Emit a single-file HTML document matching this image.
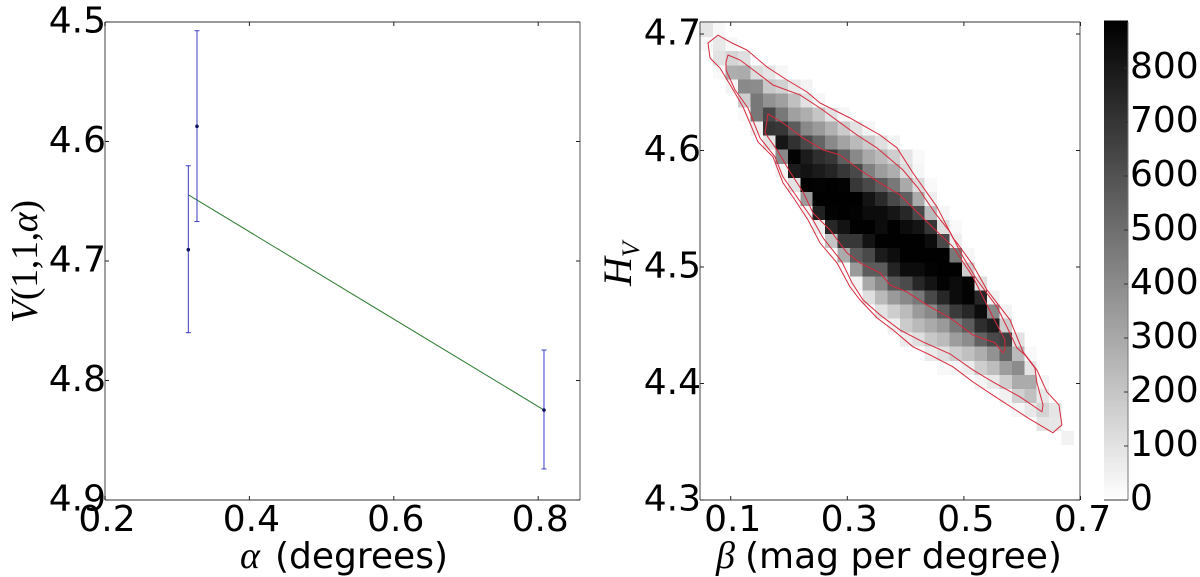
<!DOCTYPE html>
<html lang="en">
<head>
<meta charset="utf-8">
<title>Phase curve fit and posterior histogram</title>
<style>
html,body{margin:0;padding:0;background:#fff;}
#figure{display:block;width:1200px;height:577px;}
text{font-family:"DejaVu Sans","Liberation Sans",sans-serif;fill:#000;}
.math{font-family:"Liberation Serif",serif;}
</style>
</head>
<body>
<svg id="figure" xmlns="http://www.w3.org/2000/svg" width="1200" height="577" viewBox="0 0 1200 577">
  <rect x="0" y="0" width="1200" height="577" fill="#fff"/>
  <text y="568" font-size="36"><tspan class="math" x="240" font-style="italic" font-size="38">α</tspan><tspan x="275">(degrees)</tspan></text>
  <text class="math" transform="translate(37 323) rotate(-90)" font-size="38" textLength="123" lengthAdjust="spacing"><tspan font-style="italic">V</tspan>(1,1,<tspan font-style="italic">α</tspan>)</text>
  <text y="568" font-size="36"><tspan class="math" x="716" font-style="italic" font-size="38">β</tspan><tspan x="745">(mag per degree)</tspan></text>
  <text class="math" transform="translate(631 286) rotate(-90)" font-size="40" font-style="italic">H<tspan dy="8" font-size="25">V</tspan></text>
  <g id="left-plot"></g>
  <g id="right-plot"></g>
  <g id="colorbar"></g>
</svg>
<script>
// ---- left panel data ----
const phaseAngle = [0.3154, 0.3274, 0.808];
const magnitude = [4.6905, 4.5873, 4.8247];
const magnitudeLow = [4.6203, 4.5073, 4.7745];
const magnitudeHigh = [4.7600, 4.6670, 4.8740];
const fitAngle = [0.316, 0.808];
const fitMagnitude = [4.6448, 4.8247];
const leftXTicks = [0.2, 0.4, 0.6, 0.8];
const leftYTicks = [4.5, 4.6, 4.7, 4.8, 4.9];

// ---- right panel data ----
const rightXTicks = [0.1, 0.3, 0.5, 0.7];
const rightYTicks = [4.7, 4.6, 4.5, 4.4, 4.3];
const betaFirstEdge = 0.0485;
const betaBinWidth = 0.02135;
const hvTopEdge = 4.7094;
const hvBinHeight = 0.01208;
// histogram counts, top row (largest H_V) first, columns by increasing beta
const histogramCounts = [
[90,25],
[25,80,25],
[0,100,150,110],
[0,20,280,290,120,90,30],
[0,0,40,410,400,190,160,80,40],
[0,0,0,170,470,380,330,220,100,30],
[0,0,0,20,470,630,470,330,280,200,100,30],
[0,0,0,0,60,705,695,565,410,350,270,180,100,35],
[0,0,0,0,0,100,810,715,630,535,410,320,240,180,110,40],
[0,0,0,0,0,0,410,875,790,725,695,560,410,300,240,170,90,20],
[0,0,0,0,0,0,40,790,820,790,760,695,630,440,340,280,120,30],
[0,0,0,0,0,0,0,100,880,875,880,875,695,630,565,470,300,120,20],
[0,0,0,0,0,0,0,0,350,880,880,880,880,815,740,630,555,290,60],
[0,0,0,0,0,0,0,0,30,770,875,880,875,845,845,810,750,630,235,30],
[0,0,0,0,0,0,0,0,0,60,750,820,880,880,845,880,845,815,695,115,20],
[0,0,0,0,0,0,0,0,0,0,200,695,695,820,880,880,880,880,845,630,60],
[0,0,0,0,0,0,0,0,0,0,0,290,565,630,790,835,880,880,880,880,470,30],
[0,0,0,0,0,0,0,0,0,0,0,10,350,565,565,760,845,845,875,880,880,175],
[0,0,0,0,0,0,0,0,0,0,0,0,40,300,410,580,625,750,815,875,845,875,110],
[0,0,0,0,0,0,0,0,0,0,0,0,0,110,240,350,410,470,630,750,845,875,750,50],
[0,0,0,0,0,0,0,0,0,0,0,0,0,0,100,170,235,350,410,560,685,750,845,410,40],
[0,0,0,0,0,0,0,0,0,0,0,0,0,0,0,55,180,240,295,350,470,565,725,785,175],
[0,0,0,0,0,0,0,0,0,0,0,0,0,0,0,0,70,110,190,235,340,400,545,630,665,100],
[0,0,0,0,0,0,0,0,0,0,0,0,0,0,0,0,0,0,70,110,175,220,280,380,535,240,20],
[0,0,0,0,0,0,0,0,0,0,0,0,0,0,0,0,0,0,0,25,30,70,170,230,340,400,95],
[0,0,0,0,0,0,0,0,0,0,0,0,0,0,0,0,0,0,0,0,0,0,40,80,170,290,290,30],
[0,0,0,0,0,0,0,0,0,0,0,0,0,0,0,0,0,0,0,0,0,0,0,0,50,160,220,85],
[0,0,0,0,0,0,0,0,0,0,0,0,0,0,0,0,0,0,0,0,0,0,0,0,0,30,80,150,90],
[0,0,0,0,0,0,0,0,0,0,0,0,0,0,0,0,0,0,0,0,0,0,0,0,0,0,0,90,85],
[0,0,0,0,0,0,0,0,0,0,0,0,0,0,0,0,0,0,0,0,0,0,0,0,0,0,0,0,0,45]
];
const contourOuterBeta = [.0782,.1022,.1280,.1623,.1966,.2309,.2532,.3046,.3561,.3852,.4127,.4538,.4812,.4881,.5155,.5395,.5790,.6013,.6253,.6424,.6630,.6681,.6527,.6098,.5566,.5155,.4812,.4417,.4126,.3783,.3509,.3217,.3046,.2823,.2532,.2326,.2069,.1897,.1726,.1468,.1211,.1022,.0817,.0645,.0611];
const contourOuterHv = [4.6990,4.6923,4.6863,4.6717,4.6605,4.6502,4.6408,4.6279,4.6133,4.6022,4.5807,4.5516,4.5250,4.5207,4.5018,4.4804,4.4546,4.4272,4.4117,4.3928,4.3817,4.3645,4.3577,4.3705,4.3877,4.4014,4.4143,4.4246,4.4315,4.4460,4.4563,4.4718,4.4829,4.5035,4.5207,4.5404,4.5601,4.5722,4.5945,4.6073,4.6374,4.6537,4.6708,4.6794,4.6923];
const contourMiddleBeta = [.0954,.1160,.1503,.1726,.2189,.2532,.3166,.3509,.3955,.4212,.4504,.4761,.4984,.5224,.5566,.5738,.5909,.6047,.6218,.6253,.6356,.6339,.5961,.5497,.5155,.4761,.4298,.3903,.3561,.3269,.3080,.2909,.2583,.2412,.2137,.1897,.1760,.1503,.1297,.1074,.0919,.0919];
const contourMiddleHv = [4.6820,4.6777,4.6648,4.6562,4.6477,4.6365,4.6133,4.6022,4.5833,4.5679,4.5464,4.5301,4.5087,4.4889,4.4658,4.4486,4.4306,4.4246,4.4134,4.4006,4.3817,4.3757,4.3886,4.4014,4.4117,4.4254,4.4357,4.4460,4.4589,4.4718,4.4864,4.5044,4.5250,4.5404,4.5601,4.5773,4.5945,4.6108,4.6365,4.6520,4.6691,4.6760];
const contourInnerBeta = [.1640,.1897,.2240,.2583,.2874,.3217,.3561,.3903,.4366,.4812,.5155,.5497,.5703,.5703,.5669,.5532,.5155,.4761,.4366,.4023,.3732,.3561,.3217,.2994,.2703,.2412,.2240,.2017,.1794,.1589];
const contourInnerHv = [4.6314,4.6236,4.6108,4.6005,4.5962,4.5833,4.5722,4.5619,4.5387,4.5173,4.4915,4.4572,4.4375,4.4289,4.4263,4.4349,4.4417,4.4563,4.4675,4.4786,4.4846,4.4950,4.5035,4.5121,4.5318,4.5464,4.5644,4.5816,4.6005,4.6151];

// ---- colorbar data ----
const colorbarTicks = [0, 100, 200, 300, 400, 500, 600, 700, 800];
const colorMax = 885;

const NS = 'http://www.w3.org/2000/svg';
function mk(parent, tag, attrs) {
  const el = document.createElementNS(NS, tag);
  for (const k in attrs) el.setAttribute(k, attrs[k]);
  parent.appendChild(el);
  return el;
}
function grayFor(v) {
  const g = Math.round(255 * (1 - Math.min(v, colorMax) / colorMax));
  return 'rgb(' + g + ',' + g + ',' + g + ')';
}

// axis functions
const leftX = v => 105 + (v - 0.2) * 722;
const leftY = v => 22 + (v - 4.5) * 1195;
const rightX = v => 730.7 + (v - 0.1) * 583;
const rightY = v => 34 + (4.7 - v) * 1165;
const barY = v => 500 - v * 0.54;

const leftPlot = document.getElementById('left-plot');
const rightPlot = document.getElementById('right-plot');
const colorbar = document.getElementById('colorbar');

function frame(parent, x0, y0, x1, y1) {
  const left = mk(parent, 'line', {x1:x0, y1:y0, x2:x0, y2:y1, stroke:'#888', 'stroke-width':1.6});
  
  
  const right = mk(parent, 'line', {x1:x1, y1:y0, x2:x1, y2:y1, stroke:'#666', 'stroke-width':1.1});
  
  
  const top = mk(parent, 'line', {x1:x0, y1:y0, x2:x1, y2:y0, stroke:'#333', 'stroke-width':1});
  
  
  const bottom = mk(parent, 'line', {x1:x0, y1:y1, x2:x1, y2:y1, stroke:'#333', 'stroke-width':1});
  
  
}
function xTicks(parent, values, scale, y0, y1, prefix) {
  values.forEach(v => {
    const px = scale(v);
    const t1 = mk(parent, 'line', {x1:px, y1:y1, x2:px, y2:y1 - 4, stroke:'#222', 'stroke-width':1});
    
    
    const t2 = mk(parent, 'line', {x1:px, y1:y0, x2:px, y2:y0 + 4, stroke:'#222', 'stroke-width':1});
    
    
    const label = mk(parent, 'text', {x:px + 2, y:531, 'font-size':36, 'text-anchor':'middle'});
    
    
    label.textContent = v.toFixed(1);
  });
}
function yTicks(parent, values, scale, x0, x1, prefix) {
  values.forEach(v => {
    const py = scale(v);
    const t1 = mk(parent, 'line', {x1:x0, y1:py, x2:x0 + 4, y2:py, stroke:'#222', 'stroke-width':1});
    
    
    const t2 = mk(parent, 'line', {x1:x1, y1:py, x2:x1 - 4, y2:py, stroke:'#222', 'stroke-width':1});
    
    
    const label = mk(parent, 'text', {x:x0 + 1, y:py + 10.5, 'font-size':36, 'text-anchor':'end'});
    
    
    label.textContent = v.toFixed(1);
  });
}

// ---- left panel ----
frame(leftPlot, 105, 22, 580, 500);
const fitPoints = fitAngle.map((a, i) => leftX(a) + ',' + leftY(fitMagnitude[i])).join(' ');
const fitLine = mk(leftPlot, 'polyline', {points:fitPoints, fill:'none', stroke:'#2e7d32', 'stroke-width':1});


phaseAngle.forEach((a, i) => {
  const px = leftX(a);
  const bar = mk(leftPlot, 'line', {x1:px, y1:leftY(magnitudeLow[i]), x2:px, y2:leftY(magnitudeHigh[i]), stroke:'#3b3bc4', 'stroke-width':1});
  
  
  const capTop = mk(leftPlot, 'line', {x1:px - 2.5, y1:leftY(magnitudeLow[i]), x2:px + 2.5, y2:leftY(magnitudeLow[i]), stroke:'#3b3bc4', 'stroke-width':1});
  
  
  const capBottom = mk(leftPlot, 'line', {x1:px - 2.5, y1:leftY(magnitudeHigh[i]), x2:px + 2.5, y2:leftY(magnitudeHigh[i]), stroke:'#3b3bc4', 'stroke-width':1});
  
  
  const point = mk(leftPlot, 'circle', {cx:px, cy:leftY(magnitude[i]), r:1.8, fill:'#101060'});
  
  
});
xTicks(leftPlot, leftXTicks, leftX, 22, 500, 'left');
yTicks(leftPlot, leftYTicks, leftY, 105, 580, 'left');

// ---- right panel ----
histogramCounts.forEach((row, r) => {
  row.forEach((count, c) => {
    if (!count) return;
    const x0 = rightX(betaFirstEdge + c * betaBinWidth);
    const x1 = rightX(betaFirstEdge + (c + 1) * betaBinWidth);
    const y0 = rightY(hvTopEdge - r * hvBinHeight);
    const y1 = rightY(hvTopEdge - (r + 1) * hvBinHeight);
    const cell = mk(rightPlot, 'rect', {x:x0, y:y0, width:x1 - x0, height:y1 - y0, fill:grayFor(count), 'shape-rendering':'crispEdges'});
    
    
  });
});
frame(rightPlot, 700, 22, 1080, 500);
function contourPoints(betas, hvs) {
  return betas.map((b, i) => rightX(b).toFixed(1) + ',' + rightY(hvs[i]).toFixed(1)).join(' ');
}
const outerContour = mk(rightPlot, 'polygon', {points:contourPoints(contourOuterBeta, contourOuterHv), fill:'none', stroke:'#d62a3c', 'stroke-width':1});


const middleContour = mk(rightPlot, 'polygon', {points:contourPoints(contourMiddleBeta, contourMiddleHv), fill:'none', stroke:'#d62a3c', 'stroke-width':1});


const innerContour = mk(rightPlot, 'polygon', {points:contourPoints(contourInnerBeta, contourInnerHv), fill:'none', stroke:'#d62a3c', 'stroke-width':1});


xTicks(rightPlot, rightXTicks, rightX, 22, 500, 'right');
yTicks(rightPlot, rightYTicks, rightY, 700, 1080, 'right');

// ---- colorbar ----
for (let v = 0; v < colorMax; v += 4) {
  const stripe = mk(colorbar, 'rect', {x:1104, y:barY(v + 4), width:24, height:barY(v) - barY(v + 4) + 0.4, fill:grayFor(v + 2), 'shape-rendering':'crispEdges'});
  
  
}
const barRight = mk(colorbar, 'line', {x1:1128, y1:22, x2:1128, y2:500, stroke:'#777', 'stroke-width':1});


const barBottom = mk(colorbar, 'line', {x1:1104, y1:500, x2:1128, y2:500, stroke:'#333', 'stroke-width':1});


colorbarTicks.forEach(v => {
  const py = barY(v);
  const tick = mk(colorbar, 'line', {x1:1128, y1:py, x2:1124, y2:py, stroke:'#333', 'stroke-width':1});
  
  
  const label = mk(colorbar, 'text', {x:1130, y:py + 10, 'font-size':36});
  
  
  label.textContent = String(v);
});
</script>
</body>
</html>
